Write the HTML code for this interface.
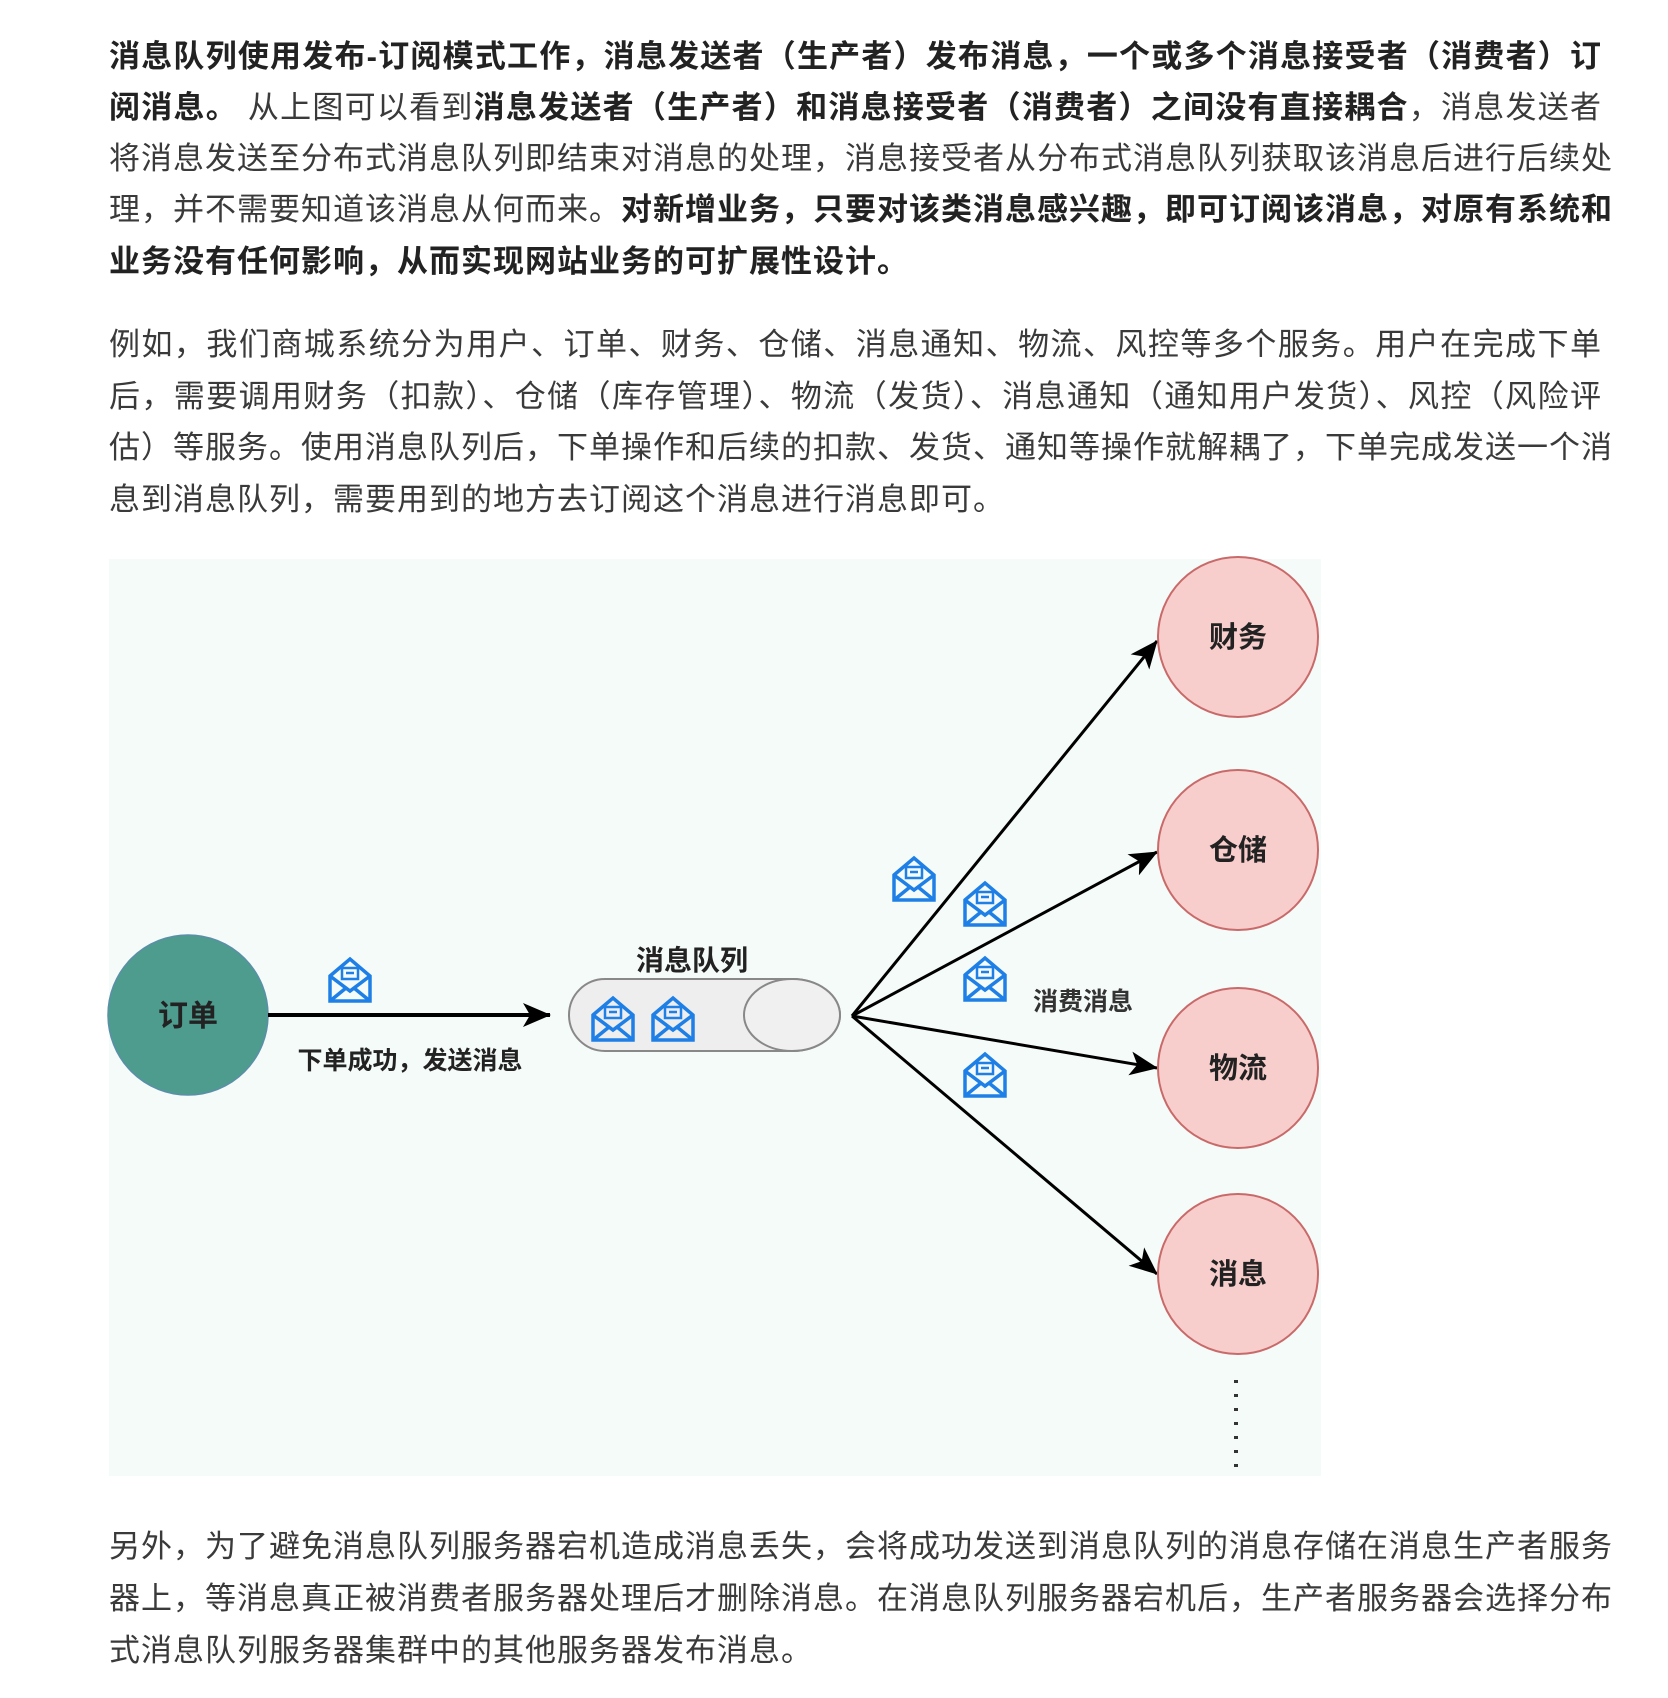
<!DOCTYPE html>
<html><head><meta charset="utf-8"><style>
html,body{margin:0;padding:0;background:#fff;}
body{width:1668px;height:1698px;position:relative;overflow:hidden;font-family:"Liberation Sans","Noto Sans CJK SC",sans-serif;color:#3a3a3a;}
.l{position:absolute;left:109px;width:1493px;font-size:31px;line-height:40px;height:40px;white-space:nowrap;text-align:justify;text-align-last:justify;letter-spacing:1px;}
.n{text-align-last:left;}
b{color:#222;font-weight:bold;}
</style></head><body>
<div class="l" style="top:37px"><b>消息队列使用发布-订阅模式工作，消息发送者（生产者）发布消息，一个或多个消息接受者（消费者）订</b></div>
<div class="l" style="top:88px"><b>阅消息。</b> 从上图可以看到<b>消息发送者（生产者）和消息接受者（消费者）之间没有直接耦合</b>，消息发送者</div>
<div class="l" style="top:139px">将消息发送至分布式消息队列即结束对消息的处理，消息接受者从分布式消息队列获取该消息后进行后续处</div>
<div class="l" style="top:190px">理，并不需要知道该消息从何而来。<b>对新增业务，只要对该类消息感兴趣，即可订阅该消息，对原有系统和</b></div>
<div class="l n" style="top:242px"><b>业务没有任何影响，从而实现网站业务的可扩展性设计。</b></div>
<div class="l" style="top:325px">例如，我们商城系统分为用户、订单、财务、仓储、消息通知、物流、风控等多个服务。用户在完成下单</div>
<div class="l" style="top:377px">后，需要调用财务（扣款）、仓储（库存管理）、物流（发货）、消息通知（通知用户发货）、风控（风险评</div>
<div class="l" style="top:428px">估）等服务。使用消息队列后，下单操作和后续的扣款、发货、通知等操作就解耦了，下单完成发送一个消</div>
<div class="l n" style="top:480px">息到消息队列，需要用到的地方去订阅这个消息进行消息即可。</div>
<div class="l" style="top:1527px">另外，为了避免消息队列服务器宕机造成消息丢失，会将成功发送到消息队列的消息存储在消息生产者服务</div>
<div class="l" style="top:1579px">器上，等消息真正被消费者服务器处理后才删除消息。在消息队列服务器宕机后，生产者服务器会选择分布</div>
<div class="l n" style="top:1631px">式消息队列服务器集群中的其他服务器发布消息。</div>

<svg style="position:absolute;left:0;top:0" width="1668" height="1698" font-family="Liberation Sans,Noto Sans CJK SC,sans-serif">
<defs>
<marker id="ar2" markerWidth="28" markerHeight="24" refX="27" refY="12" orient="auto" markerUnits="userSpaceOnUse"><path d="M0,0 L28,12 L0,24 L7,12z" fill="#000"/></marker>
<g id="env" fill="none" stroke="#1e7fe6" stroke-width="3.5">
<path d="M-20,-5 L0,-22 L20,-5 L20,20 L-20,20 Z"/>
<path d="M-20,-5 L0,10 L20,-5 M-20,20 L-4,7 M20,20 L4,7"/>
<path d="M-8,-13 h16 v11 h-16z M-4,-8 h8" stroke-width="2.5"/>
</g>
</defs>
<rect x="109" y="559" width="1212" height="917" fill="#f5fbf8"/>
<circle cx="188" cy="1015" r="80" fill="#4e9c8e" stroke="#5a8fa8" stroke-width="1.5"/>
<text x="188" y="1026" font-size="30" font-weight="bold" text-anchor="middle" fill="#222">订单</text>
<line x1="268" y1="1015" x2="550" y2="1015" stroke="#000" stroke-width="4" marker-end="url(#ar2)"/>
<text x="410" y="1069" font-size="25" text-anchor="middle" fill="#222" style="font-weight:600">下单成功，发送消息</text>
<text x="692" y="970" font-size="28" font-weight="bold" text-anchor="middle" fill="#222">消息队列</text>
<path d="M605,979 H792 A48,36 0 0 1 792,1051 H605 A36,36 0 0 1 605,979 Z" fill="#eeeeee" stroke="#888" stroke-width="2"/>
<ellipse cx="792" cy="1015" rx="48" ry="36" fill="#f0f0f0" stroke="#888" stroke-width="2"/>
<use href="#env" x="350" y="981"/>
<use href="#env" x="613" y="1020"/>
<use href="#env" x="673" y="1020"/>
<use href="#env" x="914" y="880"/>
<use href="#env" x="985" y="905"/>
<use href="#env" x="985" y="980"/>
<use href="#env" x="985" y="1076"/>
<g stroke="#000" stroke-width="3" marker-end="url(#ar2)">
<line x1="852" y1="1016" x2="1157" y2="641"/>
<line x1="852" y1="1016" x2="1157" y2="852"/>
<line x1="852" y1="1016" x2="1157" y2="1068"/>
<line x1="852" y1="1016" x2="1157" y2="1274"/>
</g>
<text x="1083" y="1010" font-size="25" text-anchor="middle" fill="#333" style="font-weight:600">消费消息</text>
<g fill="#f8cecc" stroke="#c86a6a" stroke-width="2">
<circle cx="1238" cy="637" r="80"/><circle cx="1238" cy="850" r="80"/>
<circle cx="1238" cy="1068" r="80"/><circle cx="1238" cy="1274" r="80"/>
</g>
<g font-size="29" text-anchor="middle" fill="#222" style="font-weight:600">
<text x="1238" y="647">财务</text><text x="1238" y="860">仓储</text>
<text x="1238" y="1078">物流</text><text x="1238" y="1284">消息</text>
</g>
<line x1="1236" y1="1380" x2="1236" y2="1478" stroke="#333" stroke-width="4" stroke-dasharray="3,11"/>
</svg>
</body></html>
